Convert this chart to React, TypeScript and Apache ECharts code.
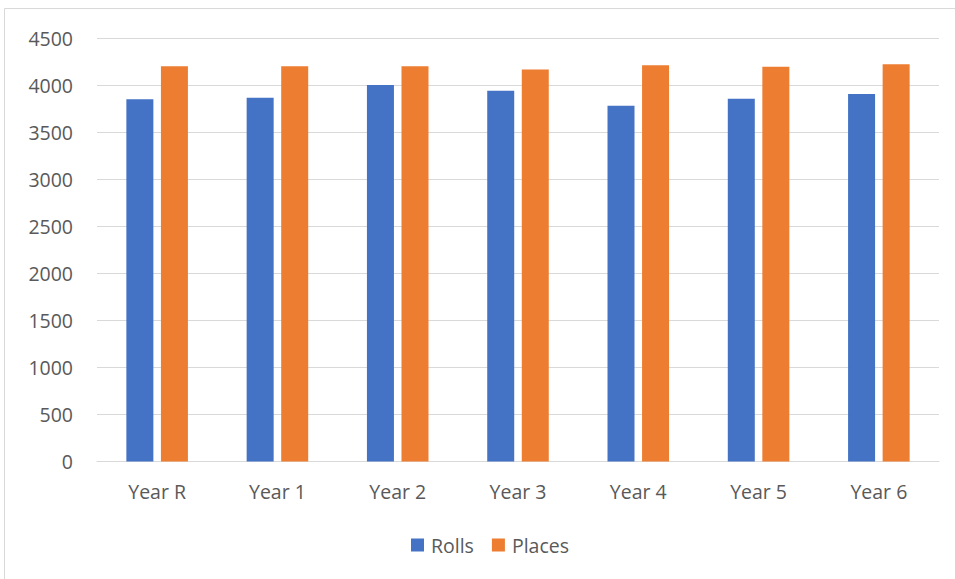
import React, { useEffect, useRef } from "react";
import * as echarts from "echarts";

const categories = ["Year R", "Year 1", "Year 2", "Year 3", "Year 4", "Year 5", "Year 6"];
const rolls = [3850, 3865, 4000, 3940, 3780, 3855, 3905];
const places = [4200, 4200, 4200, 4165, 4210, 4195, 4220];
const seriesNames = ["Rolls", "Places"];

const FONT = "'Open Sans', 'Noto Sans', sans-serif";
const TEXT = "#595959";
const FS = 19.5;

export default function App() {
  const ref = useRef<HTMLDivElement>(null);
  useEffect(() => {
    if (!ref.current) return;
    const chart = echarts.init(ref.current, undefined, { renderer: "svg" });
    chart.setOption({
      animation: false,
      backgroundColor: "#ffffff",
      textStyle: { fontFamily: FONT },
      graphic: [
        {
          type: "rect",
          shape: { x: 4.5, y: 8.5, width: 1000, height: 700 },
          style: { fill: "none", stroke: "#d9d9d9", lineWidth: 1 },
          silent: true,
        },
      ],
      grid: { left: 97, right: 16, top: 38, bottom: 117.5, containLabel: false },
      legend: {
        data: seriesNames,
        left: 411,
        top: 535,
        padding: 0,
        icon: "rect",
        itemWidth: 13,
        itemHeight: 13,
        itemGap: 18,
        textStyle: { color: TEXT, fontSize: FS, fontFamily: FONT, padding: [0, 0, 0, 2] },
      },
      xAxis: {
        type: "category",
        data: categories,
        axisLine: { show: true, lineStyle: { color: "#d9d9d9", width: 1 } },
        axisTick: { show: false },
        axisLabel: { color: TEXT, fontSize: FS, fontFamily: FONT, margin: 20 },
      },
      yAxis: {
        type: "value",
        min: 0,
        max: 4500,
        interval: 500,
        axisLine: { show: false },
        axisTick: { show: false },
        splitLine: { lineStyle: { color: "#d9d9d9", width: 1 } },
        axisLabel: {
          color: TEXT,
          fontSize: FS,
          fontFamily: FONT,
          margin: 24,
          formatter: (v: number) => String(v),
        },
      },
      series: [
        {
          name: seriesNames[0],
          type: "bar",
          data: rolls,
          barWidth: 27,
          barGap: "28%",
          itemStyle: { color: "#4472C4" },
        },
        {
          name: seriesNames[1],
          type: "bar",
          data: places,
          barWidth: 27,
          barGap: "28%",
          itemStyle: { color: "#ED7D31" },
        },
      ],
    });
    return () => chart.dispose();
  }, []);
  return (
    <div
      ref={ref}
      style={{ position: "fixed", left: 0, top: 0, width: 955, height: 579 }}
    />
  );
}
